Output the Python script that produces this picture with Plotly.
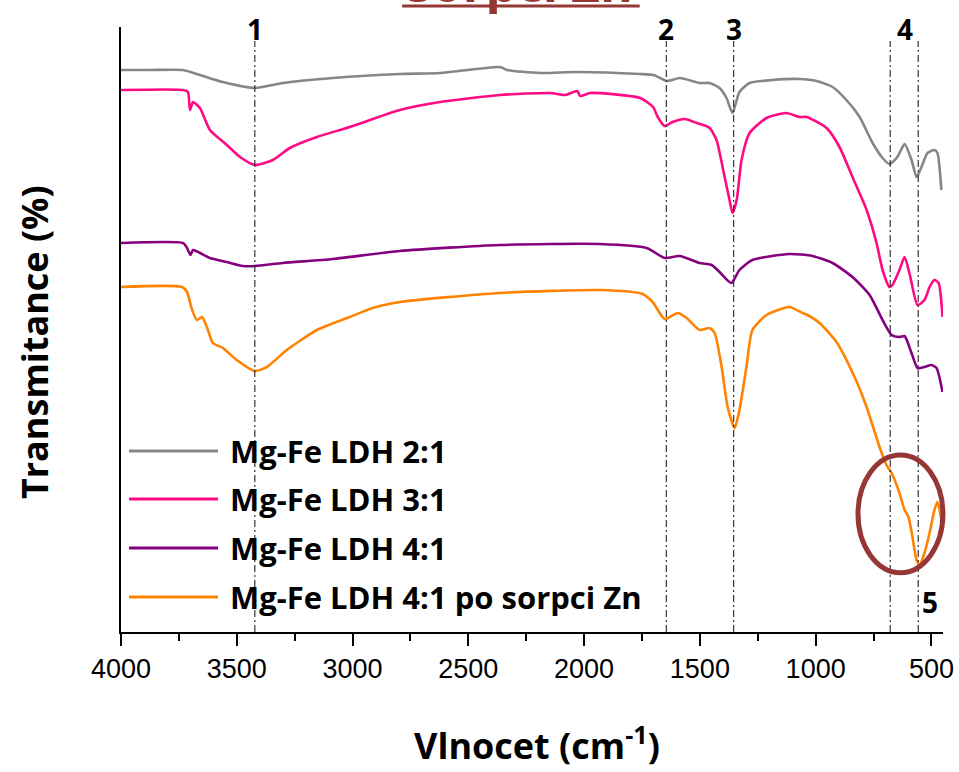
import plotly.graph_objects as go

# ---------------- data (wavenumber in cm^-1, transmittance in arbitrary offset units) -------------
series_names = ["Mg-Fe LDH 2:1", "Mg-Fe LDH 3:1", "Mg-Fe LDH 4:1", "Mg-Fe LDH 4:1 po sorpci Zn"]
series_colors = ["#868686", "#FF0A84", "#85007F", "#FF8300"]

wn_21 = [4000, 3875, 3732, 3659, 3560, 3422, 3301, 3085, 2796, 2622, 2363, 2333, 2190, 2030,
         1758, 1700, 1642, 1586, 1501, 1458, 1415, 1385, 1359, 1329, 1285, 1186, 1069, 996,
         927, 867, 810, 754, 711, 681, 647, 616, 586, 564, 543, 517, 487, 474, 457]
t_21 = [562, 562, 562, 557, 550, 544, 549, 554, 558, 559, 565, 562, 559, 560,
        558, 557, 551, 554, 549, 549, 544, 534, 519, 540, 549, 552, 553, 551,
        545, 532, 515, 489, 474, 468, 475, 488, 472, 455, 465, 479, 482, 479, 442]

wn_31 = [4000, 3732, 3711, 3702, 3689, 3659, 3616, 3543, 3486, 3422, 3344, 3271, 3154, 3012,
         2796, 2622, 2363, 2147, 2082, 2030, 2017, 1974, 1758, 1702, 1682, 1652, 1618, 1566,
         1514, 1458, 1428, 1402, 1372, 1359, 1341, 1320, 1285, 1212, 1126, 1069, 1039, 953,
         897, 841, 780, 737, 711, 681, 668, 638, 616, 595, 560, 530, 508, 487, 469, 452]
t_31 = [542, 542, 540, 522, 530, 524, 502, 487, 475, 467, 472, 484, 495, 505,
        522, 530, 537, 539, 537, 541, 536, 539, 534, 525, 515, 506, 510, 513,
        509, 504, 492, 465, 432, 419, 432, 472, 499, 514, 519, 515, 515, 504,
        485, 455, 422, 389, 362, 345, 347, 362, 375, 359, 327, 332, 345, 352, 349, 315]

wn_41 = [4000, 3732, 3717, 3700, 3689, 3659, 3616, 3543, 3474, 3422, 3301, 3085, 2796, 2363,
         1933, 1730, 1652, 1587, 1501, 1449, 1415, 1364, 1329, 1273, 1113, 1014, 927, 841,
         767, 711, 672, 638, 616, 586, 560, 530, 500, 478, 452]
t_41 = [389, 389, 385, 377, 382, 379, 374, 370, 366, 366, 369, 373, 381, 387,
        388, 384, 374, 376, 369, 367, 360, 349, 362, 372, 378, 376, 369, 355,
        337, 312, 297, 295, 296, 279, 264, 265, 267, 264, 240]

wn_zn = [4000, 3736, 3715, 3693, 3672, 3650, 3629, 3603, 3560, 3500, 3422, 3370, 3284, 3154,
         3012, 2913, 2796, 2363, 1933, 1747, 1704, 1652, 1596, 1557, 1501, 1458, 1436, 1406,
         1380, 1350, 1329, 1299, 1273, 1212, 1113, 1057, 1035, 983, 910, 832, 780, 724,
         694, 672, 638, 616, 599, 582, 564, 551, 530, 508, 487, 474, 457]
t_zn = [345, 345, 340, 322, 312, 315, 305, 289, 284, 272, 261, 265, 282, 302,
        315, 324, 330, 339, 342, 338, 330, 313, 319, 314, 302, 304, 299, 265,
        225, 204, 222, 265, 302, 317, 325, 319, 317, 309, 290, 255, 225, 185,
        167, 159, 139, 122, 115, 95, 72, 67, 79, 99, 122, 130, 112]

peak_positions = [3422, 1645, 1354, 678, 557]
peak_labels = ["1", "2", "3", "4", "5"]
label4_position = 613
label5_position = 505

x_ticks = [4000, 3500, 3000, 2500, 2000, 1500, 1000, 500]

# ---------------- figure -------------
BOLD = "Open Sans"
fig = go.Figure()
all_x = [wn_21, wn_31, wn_41, wn_zn]
all_y = [t_21, t_31, t_41, t_zn]
for name, col, xs, ys in zip(series_names, series_colors, all_x, all_y):
    fig.add_trace(go.Scatter(x=xs, y=ys, mode="lines", name=name, showlegend=False,
                             line=dict(color=col, width=2.6, shape="spline", smoothing=0.6)))

shapes = []
# dash-dot guide lines
for p in peak_positions:
    shapes.append(dict(type="line", xref="x", yref="y", x0=p, x1=p, y0=0, y1=591,
                       line=dict(color="#222222", width=1.1, dash="7px,3px,2px,3px"), layer="above"))

# manual legend
leg_y = [0.299, 0.2198, 0.1388, 0.0579]
annotations = []
for name, col, ly in zip(series_names, series_colors, leg_y):
    shapes.append(dict(type="line", xref="paper", yref="paper", x0=0.0097, x1=0.118, y0=ly, y1=ly,
                       line=dict(color=col, width=3)))
    annotations.append(dict(text="<b>%s</b>" % name, xref="paper", yref="paper", x=0.130, y=ly,
                            xanchor="left", yanchor="middle", showarrow=False,
                            font=dict(family=BOLD, size=31, color="black")))

# highlight circle
shapes.append(dict(type="circle", xref="paper", yref="paper", x0=0.8966, x1=0.9999,
                   y0=0.098, y1=0.2925, line=dict(color="#953735", width=5), layer="above"))
# title underline (clipped title at top)
shapes.append(dict(type="line", xref="paper", yref="paper", x0=0.342, x1=0.631, y0=1.0347, y1=1.0347,
                   line=dict(color="#953735", width=3)))

# peak labels
for p, lab in zip(peak_positions[:3], peak_labels[:3]):
    annotations.append(dict(text="<b>%s</b>" % lab, x=p, y=603, xref="x", yref="y",
                            showarrow=False, yanchor="middle", font=dict(family=BOLD, size=28, color="black")))
annotations.append(dict(text="<b>4</b>", x=label4_position, y=603, xref="x", yref="y",
                        showarrow=False, yanchor="middle", font=dict(family=BOLD, size=28, color="black")))
annotations.append(dict(text="<b>5</b>", x=label5_position, y=30, xref="x", yref="y",
                        showarrow=False, yanchor="middle", font=dict(family=BOLD, size=28, color="black")))

# axis titles
annotations.append(dict(text="<b>Transmitance (%)</b>", xref="paper", yref="paper", x=-0.106, y=0.479,
                        textangle=-90, showarrow=False, xanchor="center", yanchor="middle",
                        font=dict(family=BOLD, size=36, color="black")))
annotations.append(dict(text="<b>Vlnocet (cm<sup>-1</sup>)</b>", xref="paper", yref="paper", x=0.506, y=-0.185,
                        showarrow=False, xanchor="center", yanchor="middle",
                        font=dict(family=BOLD, size=36, color="black")))
# clipped title
annotations.append(dict(text="<b>sorpci Zn</b>", xref="paper", yref="paper", x=0.486, y=1.0735,
                        showarrow=False, xanchor="center", yanchor="middle",
                        font=dict(family=BOLD, size=50, color="#953735")))

fig.update_layout(
    width=959, height=772,
    margin=dict(l=121, r=16, t=27, b=140, autoexpand=False),
    paper_bgcolor="white", plot_bgcolor="white",
    shapes=shapes, annotations=annotations,
    showlegend=False,
)
fig.update_xaxes(range=[4000, 450], tickvals=x_ticks, ticktext=[str(v) for v in x_ticks],
                 ticks="outside", ticklen=12, tickwidth=2, tickcolor="black",
                 minor=dict(ticks="outside", ticklen=7, tickwidth=2, tickcolor="black", tick0=250, dtick=250),
                 showline=True, linecolor="black", linewidth=2, showgrid=False, zeroline=False,
                 automargin=False,
                 tickfont=dict(family="Liberation Sans", size=27, color="black"))
fig.update_yaxes(range=[0, 605], showline=True, linecolor="black", linewidth=2, showticklabels=False,
                 ticks="", showgrid=False, zeroline=False, automargin=False)

fig.write_html("out.html")
